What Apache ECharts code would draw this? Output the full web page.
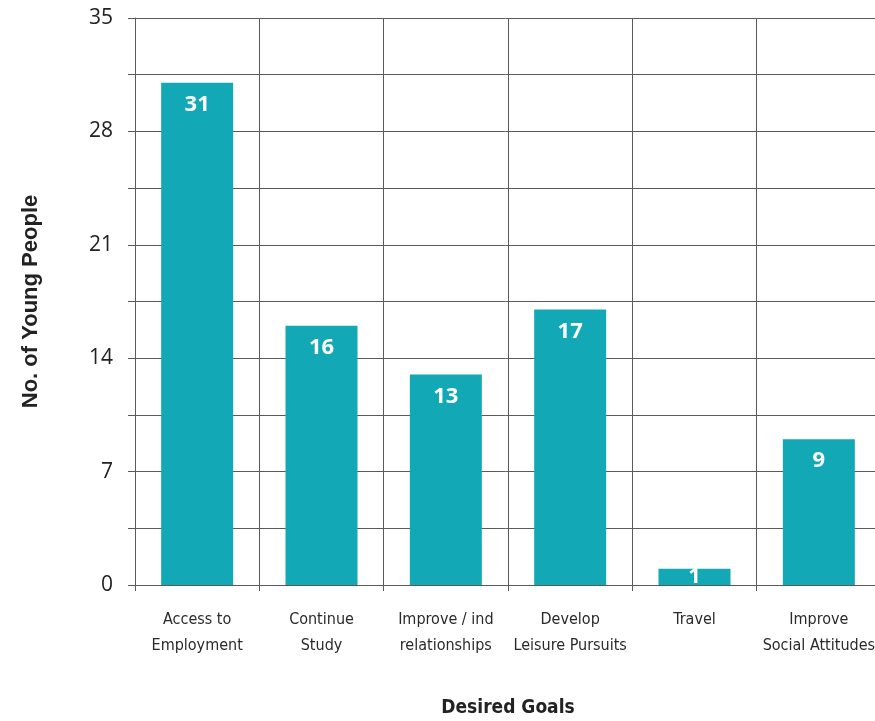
<!DOCTYPE html>
<html>
<head>
<meta charset="utf-8">
<script src="https://cdn.jsdelivr.net/npm/echarts@6/dist/echarts.min.js"></script>
<style>
  html, body { margin: 0; padding: 0; background: #fff; }
  #chart { width: 875px; height: 721px; }
</style>
</head>
<body>
<div id="chart"></div>
<script>
// Desired goals reported by young people
const categories = [
  'Access to\nEmployment',
  'Continue\nStudy',
  'Improve / ind\nrelationships',
  'Develop\nLeisure Pursuits',
  'Travel',
  'Improve\nSocial Attitudes'
];
const counts = [31, 16, 13, 17, 1, 9];
const yTicks = [0, 7, 14, 21, 28, 35];

const barColor = '#12a8b5';
const lineColor = '#5a5a5a';
const narrow = '"Liberation Sans Narrow", "DejaVu Sans Condensed", sans-serif';

const chart = echarts.init(document.getElementById('chart'));

// very short bars get their value centred inside instead of at the top
const barData = counts.map(v => v < 3
  ? { value: v, label: { position: 'inside' } }
  : v);

chart.setOption({
  animation: false,
  grid: { left: 135, top: 18, width: 746, bottom: 136, containLabel: false, outerBoundsMode: 'none' },
  xAxis: {
    type: 'category',
    data: categories,
    boundaryGap: true,
    name: 'Desired Goals',
    nameLocation: 'middle',
    nameGap: 114,
    nameTextStyle: { fontFamily: narrow, fontWeight: 'bold', fontSize: 19, color: '#222' },
    axisLine: { show: true, lineStyle: { color: lineColor, width: 1 } },
    axisTick: { show: true, length: 6, lineStyle: { color: lineColor } },
    splitLine: { show: true, lineStyle: { color: lineColor, width: 1 } },
    axisLabel: {
      interval: 0,
      margin: 22,
      fontFamily: narrow,
      fontSize: 16,
      lineHeight: 26,
      color: '#2a2a2a'
    }
  },
  yAxis: {
    type: 'value',
    min: 0,
    max: 35,
    interval: 3.5,
    name: 'No. of Young People',
    nameLocation: 'middle',
    nameGap: 93,
    nameRotate: 90,
    nameTextStyle: { fontFamily: '"Liberation Sans", Arial, sans-serif', fontWeight: 'bold', fontSize: 22, color: '#222' },
    axisLine: { show: true, lineStyle: { color: lineColor, width: 1 } },
    axisTick: { show: true, length: 7, lineStyle: { color: lineColor } },
    splitLine: { show: true, lineStyle: { color: lineColor, width: 1 } },
    axisLabel: {
      margin: 22,
      fontFamily: '"Open Sans", sans-serif',
      fontSize: 21,
      color: '#222',
      formatter: v => (yTicks.indexOf(Math.round(v * 10) / 10) >= 0 ? String(v) : '')
    }
  },
  series: [{
    type: 'bar',
    data: barData,
    barWidth: 72,
    itemStyle: { color: barColor },
    label: {
      show: true,
      position: 'insideTop',
      distance: 11,
      color: '#fff',
      fontFamily: '"Open Sans", sans-serif',
      fontWeight: 'bold',
      fontSize: 22
    }
  }]
});
</script>
</body>
</html>
